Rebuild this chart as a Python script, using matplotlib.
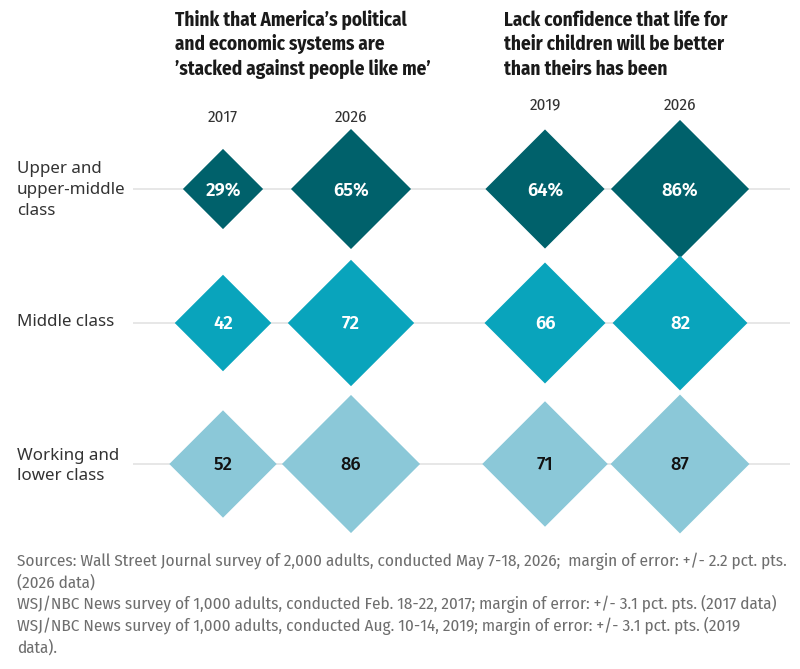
import matplotlib
matplotlib.use("Agg")
import matplotlib.pyplot as plt
import numpy as np

# ---------------- data ----------------
classes = ["Upper and\nupper-middle\nclass", "Middle class", "Working and\nlower class"]
stacked_years = ["2017", "2026"]
children_years = ["2019", "2026"]
stacked_2017 = [29, 42, 52]
stacked_2026 = [65, 72, 86]
children_2019 = [64, 66, 71]
children_2026 = [86, 82, 87]
title_stacked = ["Think that America\u2019s political",
                 "and economic systems are",
                 "\u2019stacked against people like me\u2019"]
title_children = ["Lack confidence that life for",
                  "their children will be better",
                  "than theirs has been"]
notes = ["Sources: Wall Street Journal survey of 2,000 adults, conducted May 7-18, 2026;  margin of error: +/- 2.2 pct. pts.",
         "(2026 data)",
         "WSJ/NBC News survey of 1,000 adults, conducted Feb. 18-22, 2017; margin of error: +/- 3.1 pct. pts. (2017 data)",
         "WSJ/NBC News survey of 1,000 adults, conducted Aug. 10-14, 2019; margin of error: +/- 3.1 pct. pts. (2019",
         "data)."]

# ---------------- layout / style ----------------
W, H = 800, 669
col_x = [223, 351, 545, 680]          # column centres (px)
row_y = [189, 323, 464]               # row centres (px)
year_y = [117, 117, 105, 105]
row_colors = ["#00616b", "#09a4bc", "#8bc8d8"]
label_colors = ["white", "white", "#111111"]
label_weights = ["semibold", "semibold", "medium"]
size_per_unit = 57.5                  # scatter area (pt^2) per percentage point

COND = ["Fira Sans Condensed", "Roboto Condensed", "DejaVu Sans"]
REG = ["Noto Sans", "Open Sans", "DejaVu Sans"]
NUM = ["Fira Sans", "Noto Sans", "DejaVu Sans"]

fig = plt.figure(figsize=(W / 100, H / 100), dpi=100)
ax = fig.add_axes([0, 0, 1, 1])
ax.set_xlim(0, W)
ax.set_ylim(H, 0)
ax.axis("off")

columns = [stacked_2017, stacked_2026, children_2019, children_2026]
years = stacked_years + children_years

# grid lines
ax.hlines(row_y, 133, 790, color="#e3e3e3", lw=1.2, zorder=0)

# diamonds
for r in range(len(classes)):
    vals = np.array([c[r] for c in columns])
    ax.scatter(col_x, [row_y[r]] * len(col_x), s=vals * size_per_unit, marker="D",
               color=row_colors[r], linewidths=0, zorder=2 + r)
    for x, v in zip(col_x, vals):
        txt = f"{v}%" if r == 0 else f"{v}"
        ax.text(x, row_y[r] + 1, txt, ha="center", va="center", fontsize=13.3,
                family=NUM, weight=label_weights[r], color=label_colors[r], zorder=10)

# year labels
for x, y, t in zip(col_x, year_y, years):
    ax.text(x, y, t, ha="center", va="center", fontsize=12.3, family=COND,
            color="#333333")

# row labels
for y, lab in zip([190, 322, 466], classes):
    ax.text(17, y, lab, ha="left", va="center", fontsize=12.2, family=REG,
            color="#333333", linespacing=1.4)

# titles
for i, (a, b) in enumerate(zip(title_stacked, title_children)):
    yb = 26 + i * 24.3
    ax.text(175, yb, a, ha="left", va="baseline", fontsize=13.8, family=COND,
            weight="bold", color="#1a1a1a")
    ax.text(504, yb, b, ha="left", va="baseline", fontsize=13.8, family=COND,
            weight="bold", color="#1a1a1a")

# footnotes
for i, n in enumerate(notes):
    ax.text(17, 565.5 + i * 21.7, n, ha="left", va="baseline", fontsize=12.3,
            family=COND, color="#6e6e6e")

fig.savefig("out.png", dpi=100)
